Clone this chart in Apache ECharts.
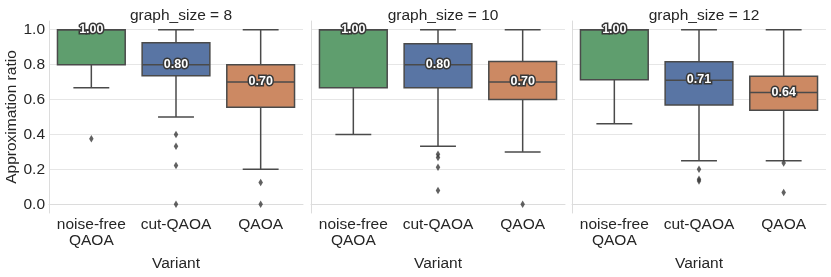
<!DOCTYPE html>
<html>
<head>
<meta charset="utf-8">
<script src="https://cdn.jsdelivr.net/npm/echarts@6/dist/echarts.min.js"></script>
<style>html,body{margin:0;padding:0;background:#fff}#c{width:831px;height:277px}</style>
</head>
<body>
<div id="c"></div>
<script>
// ---- data ----
const panelTitles = ['graph_size = 8', 'graph_size = 10', 'graph_size = 12'];
const variants = ['noise-free\nQAOA', 'cut-QAOA', 'QAOA'];
const yTicks = [0.0, 0.2, 0.4, 0.6, 0.8, 1.0];
// box stats per variant: [lowWhisker, Q1, median, Q3, highWhisker]
const stats8  = [[0.667, 0.80, 1.00, 1.00, 1.00], [0.50, 0.736, 0.80, 0.925, 1.00], [0.20, 0.556, 0.70, 0.80, 1.00]];
const stats10 = [[0.40, 0.667, 1.00, 1.00, 1.00], [0.333, 0.667, 0.80, 0.92, 1.00], [0.30, 0.60, 0.70, 0.818, 1.00]];
const stats12 = [[0.462, 0.713, 1.00, 1.00, 1.00], [0.249, 0.569, 0.71, 0.816, 1.00], [0.249, 0.538, 0.64, 0.734, 1.00]];
// outliers: [variantIndex, value]
const fliers8  = [[0, 0.375], [1, 0.40], [1, 0.333], [1, 0.222], [1, 0.0], [2, 0.125], [2, 0.0]];
const fliers10 = [[1, 0.286], [1, 0.268], [1, 0.212], [1, 0.079], [2, 0.0]];
const fliers12 = [[1, 0.20], [1, 0.143], [1, 0.133], [2, 0.236], [2, 0.067]];

const allStats = [stats8, stats10, stats12];
const allFliers = [fliers8, fliers10, fliers12];
const boxColors = ['#5f9e6e', '#5975a4', '#cc8963'];
const lineColor = '#4a4a4a';
const textColor = '#262626';
const FONT = '"Liberation Sans", Arial, sans-serif';
const FS = 15.5;
const gridLefts = [49, 311, 572];
const gridW = 254, gridTop = 21, gridH = 192;

function renderBox(params, api) {
  const cat = api.value(0);
  const lo = api.value(1), q1 = api.value(2), med = api.value(3), q3 = api.value(4), hi = api.value(5);
  const bw = api.size([1, 0])[0] * 0.8;
  const cx = api.coord([cat, med])[0];
  const y = v => api.coord([cat, v])[1];
  const x0 = cx - bw / 2;
  const cap = bw * 0.265;
  const ls = { stroke: lineColor, lineWidth: 1.5 };
  return {
    type: 'group',
    children: [
      { type: 'line', shape: { x1: cx, y1: y(q3), x2: cx, y2: y(hi) }, style: ls },
      { type: 'line', shape: { x1: cx - cap, y1: y(hi), x2: cx + cap, y2: y(hi) }, style: ls },
      { type: 'line', shape: { x1: cx, y1: y(q1), x2: cx, y2: y(lo) }, style: ls },
      { type: 'line', shape: { x1: cx - cap, y1: y(lo), x2: cx + cap, y2: y(lo) }, style: ls },
      { type: 'rect', shape: { x: x0, y: y(q3), width: bw, height: y(q1) - y(q3) },
        style: { fill: boxColors[cat], stroke: lineColor, lineWidth: 1.5 } },
      { type: 'line', shape: { x1: x0, y1: y(med), x2: x0 + bw, y2: y(med) }, style: ls },
      { type: 'text', z2: 10, style: {
          text: med.toFixed(2), x: cx, y: y(med) - 0.5, align: 'center', verticalAlign: 'middle',
          fill: '#ffffff', stroke: '#383838', lineWidth: 3,
          font: 'bold 12.5px ' + FONT } }
    ]
  };
}

const grids = [], xAxes = [], yAxes = [], series = [], titles = [];
for (let p = 0; p < 3; p++) {
  grids.push({ left: gridLefts[p], top: gridTop, width: gridW, height: gridH });
  titles.push({ text: panelTitles[p], left: gridLefts[p] + gridW / 2, top: 3, textAlign: 'center',
    textStyle: { fontSize: FS, fontWeight: 'normal', color: textColor, fontFamily: FONT } });
  xAxes.push({
    type: 'category', gridIndex: p, data: variants, boundaryGap: true,
    axisLine: { show: true, lineStyle: { color: '#dcdcdc', width: 1 } },
    axisTick: { show: false },
    axisLabel: { color: textColor, fontSize: FS, fontFamily: FONT, margin: 4, lineHeight: 16, interval: 0 },
    name: 'Variant', nameLocation: 'middle', nameGap: 43,
    nameTextStyle: { color: textColor, fontSize: FS, fontFamily: FONT }
  });
  yAxes.push({
    type: 'value', gridIndex: p, min: -0.05, max: 1.05, interval: 0.05,
    axisLine: { show: true, lineStyle: { color: '#dcdcdc', width: 1 } },
    axisTick: { show: false },
    splitLine: { show: false },
    axisLabel: {
      show: p === 0, color: textColor, fontSize: FS, fontFamily: FONT, margin: 4,
      formatter: v => (Math.abs(v * 5 - Math.round(v * 5)) < 1e-6 && v > -0.01) ? v.toFixed(1) : ''
    },
    name: p === 0 ? 'Approximation ratio' : '', nameLocation: 'middle', nameGap: 28,
    nameTextStyle: { color: textColor, fontSize: FS, fontFamily: FONT }
  });
  series.push({
    type: 'line', xAxisIndex: p, yAxisIndex: p, data: [], z: 0, silent: true,
    markLine: {
      z: 0, silent: true, symbol: ['none', 'none'], label: { show: false },
      lineStyle: { color: '#e6e6e6', width: 1, type: 'solid' },
      emphasis: { disabled: true },
      data: yTicks.map(t => ({ yAxis: t }))
    }
  });
  series.push({
    type: 'custom', xAxisIndex: p, yAxisIndex: p, z: 2, silent: true,
    renderItem: renderBox,
    encode: { x: 0, y: [1, 2, 3, 4, 5] },
    data: allStats[p].map((s, i) => [i].concat(s))
  });
  series.push({
    type: 'scatter', xAxisIndex: p, yAxisIndex: p, z: 3, silent: true,
    symbol: 'diamond', symbolSize: [4.5, 7.5],
    itemStyle: { color: '#3a3a3a' },
    data: allFliers[p]
  });
}

const chart = echarts.init(document.getElementById('c'), null, { renderer: 'canvas' });
chart.setOption({
  animation: false,
  title: titles, grid: grids, xAxis: xAxes, yAxis: yAxes, series: series
});
</script>
</body>
</html>
